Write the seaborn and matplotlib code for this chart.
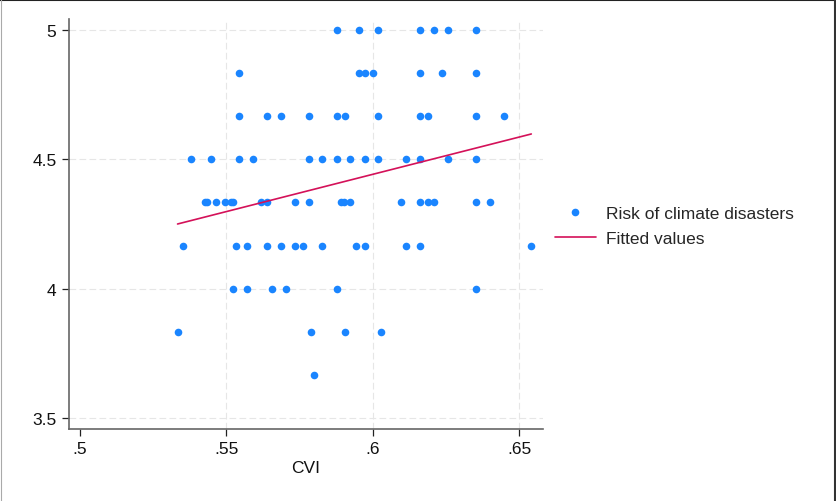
import numpy as np
import pandas as pd
import matplotlib
matplotlib.use("Agg")
import matplotlib.pyplot as plt
from matplotlib.lines import Line2D
import seaborn as sns

sns.set_theme(style="white")
plt.rcParams["font.family"] = ["Liberation Sans", "DejaVu Sans"]

# CVI score for each observation, grouped by the risk level it belongs to
cvi_500 = [0.5877, 0.5953, 0.6019, 0.6163, 0.6210, 0.6258, 0.6353]
cvi_483 = [0.5543, 0.5953, 0.5973, 0.6000, 0.6163, 0.6238, 0.6353]
cvi_467 = [0.5543, 0.5638, 0.5685, 0.5781, 0.5877, 0.5905, 0.6019, 0.6163,
           0.6190, 0.6353, 0.6448]
cvi_450 = [0.5380, 0.5448, 0.5543, 0.5590, 0.5781, 0.5828, 0.5877, 0.5924,
           0.5972, 0.6019, 0.6114, 0.6163, 0.6258, 0.6353]
cvi_433 = [0.5426, 0.5435, 0.5466, 0.5495, 0.5514, 0.5523, 0.5619, 0.5638,
           0.5734, 0.5781, 0.5893, 0.5901, 0.5924, 0.6095, 0.6163, 0.6190,
           0.6210, 0.6353, 0.6400]
cvi_417 = [0.5353, 0.5533, 0.5572, 0.5638, 0.5686, 0.5734, 0.5762, 0.5828,
           0.5943, 0.5972, 0.6114, 0.6163, 0.6542]
cvi_400 = [0.5523, 0.5572, 0.5657, 0.5705, 0.5877, 0.6353]
cvi_383 = [0.5333, 0.5789, 0.5905, 0.6029]
cvi_367 = [0.5800]

risk_levels = [5.0, 29 / 6, 14 / 3, 4.5, 13 / 3, 25 / 6, 4.0, 23 / 6, 11 / 3]
cvi_groups = [cvi_500, cvi_483, cvi_467, cvi_450, cvi_433, cvi_417, cvi_400,
              cvi_383, cvi_367]

# fitted values of the linear prediction at the ends of the CVI range
fit_cvi = [0.5333, 0.6542]
fit_values = [4.250, 4.598]

x_ticks = [0.5, 0.55, 0.6, 0.65]
x_tick_labels = [".5", ".55", ".6", ".65"]
y_ticks = [3.5, 4, 4.5, 5]
y_tick_labels = ["3.5", "4", "4.5", "5"]

df = pd.DataFrame({
    "CVI": [v for grp in cvi_groups for v in grp],
    "risk": [r for r, grp in zip(risk_levels, cvi_groups) for _ in grp],
})
fit = pd.DataFrame({"CVI": fit_cvi, "fitted": fit_values})

BLUE = "#1a85ff"
RED = "#d41159"

fig = plt.figure(figsize=(8.36, 5.02), dpi=100)
fig.patch.set_facecolor("white")
ax = fig.add_axes([69 / 836, 1 - 430 / 502, (543 - 69) / 836, (430 - 20) / 502])

# grid first so marks sit on top
for gx in x_ticks[1:]:
    ax.axvline(gx, color="#e6e6e6", lw=0.8, ls=(0, (6, 3)), zorder=0)
for gy in y_ticks:
    ax.axhline(gy, color="#e6e6e6", lw=0.8, ls=(0, (6, 3)), zorder=0)

sns.scatterplot(data=df, x="CVI", y="risk", ax=ax, color=BLUE, s=30,
                edgecolor=BLUE, linewidth=0, zorder=3, legend=False)
sns.lineplot(data=fit, x="CVI", y="fitted", ax=ax, color=RED, lw=1.2,
             zorder=4, legend=False)

ax.set_xlim(0.4962, 0.6582)
ax.set_ylim(3.4575, 5.0425)
ax.set_xticks(x_ticks)
ax.set_xticklabels(x_tick_labels)
ax.set_yticks(y_ticks)
ax.set_yticklabels(y_tick_labels)
ax.tick_params(axis="both", which="major", direction="out", length=5, width=0.9,
               color="#222222", labelsize=12.5, labelcolor="#111111", pad=4,
               bottom=True, left=True)
ax.set_xlabel("CVI", fontsize=12.5, color="#111111", labelpad=2.5)
ax.set_ylabel("")

for side in ["top", "right"]:
    ax.spines[side].set_visible(False)
for side in ["left", "bottom"]:
    ax.spines[side].set_color("#666666")
    ax.spines[side].set_linewidth(1.2)
ax.set_facecolor("white")

handles = [
    Line2D([], [], marker="o", ls="none", color=BLUE, markersize=5.5,
           markeredgewidth=0),
    Line2D([], [], color=RED, lw=1.2),
]
fig.legend(handles, ["Risk of climate disasters", "Fitted values"],
           loc="center left", bbox_to_anchor=(555 / 836, 1 - 227 / 502),
           frameon=False, fontsize=12.5, handlelength=2.35, handletextpad=0.57,
           labelspacing=0.55, borderaxespad=0, borderpad=0)

# window edges: dark along the top and right, faint on the left
fig.add_artist(Line2D([0, 1], [0.998, 0.998], transform=fig.transFigure,
                      color="#222222", lw=1.5))
fig.add_artist(Line2D([0.9985, 0.9985], [0, 1], transform=fig.transFigure,
                      color="#333333", lw=1.5))
fig.add_artist(Line2D([0.0006, 0.0006], [0, 1], transform=fig.transFigure,
                      color="#aaaaaa", lw=0.8))

fig.savefig("out.png", dpi=100, facecolor="white")
